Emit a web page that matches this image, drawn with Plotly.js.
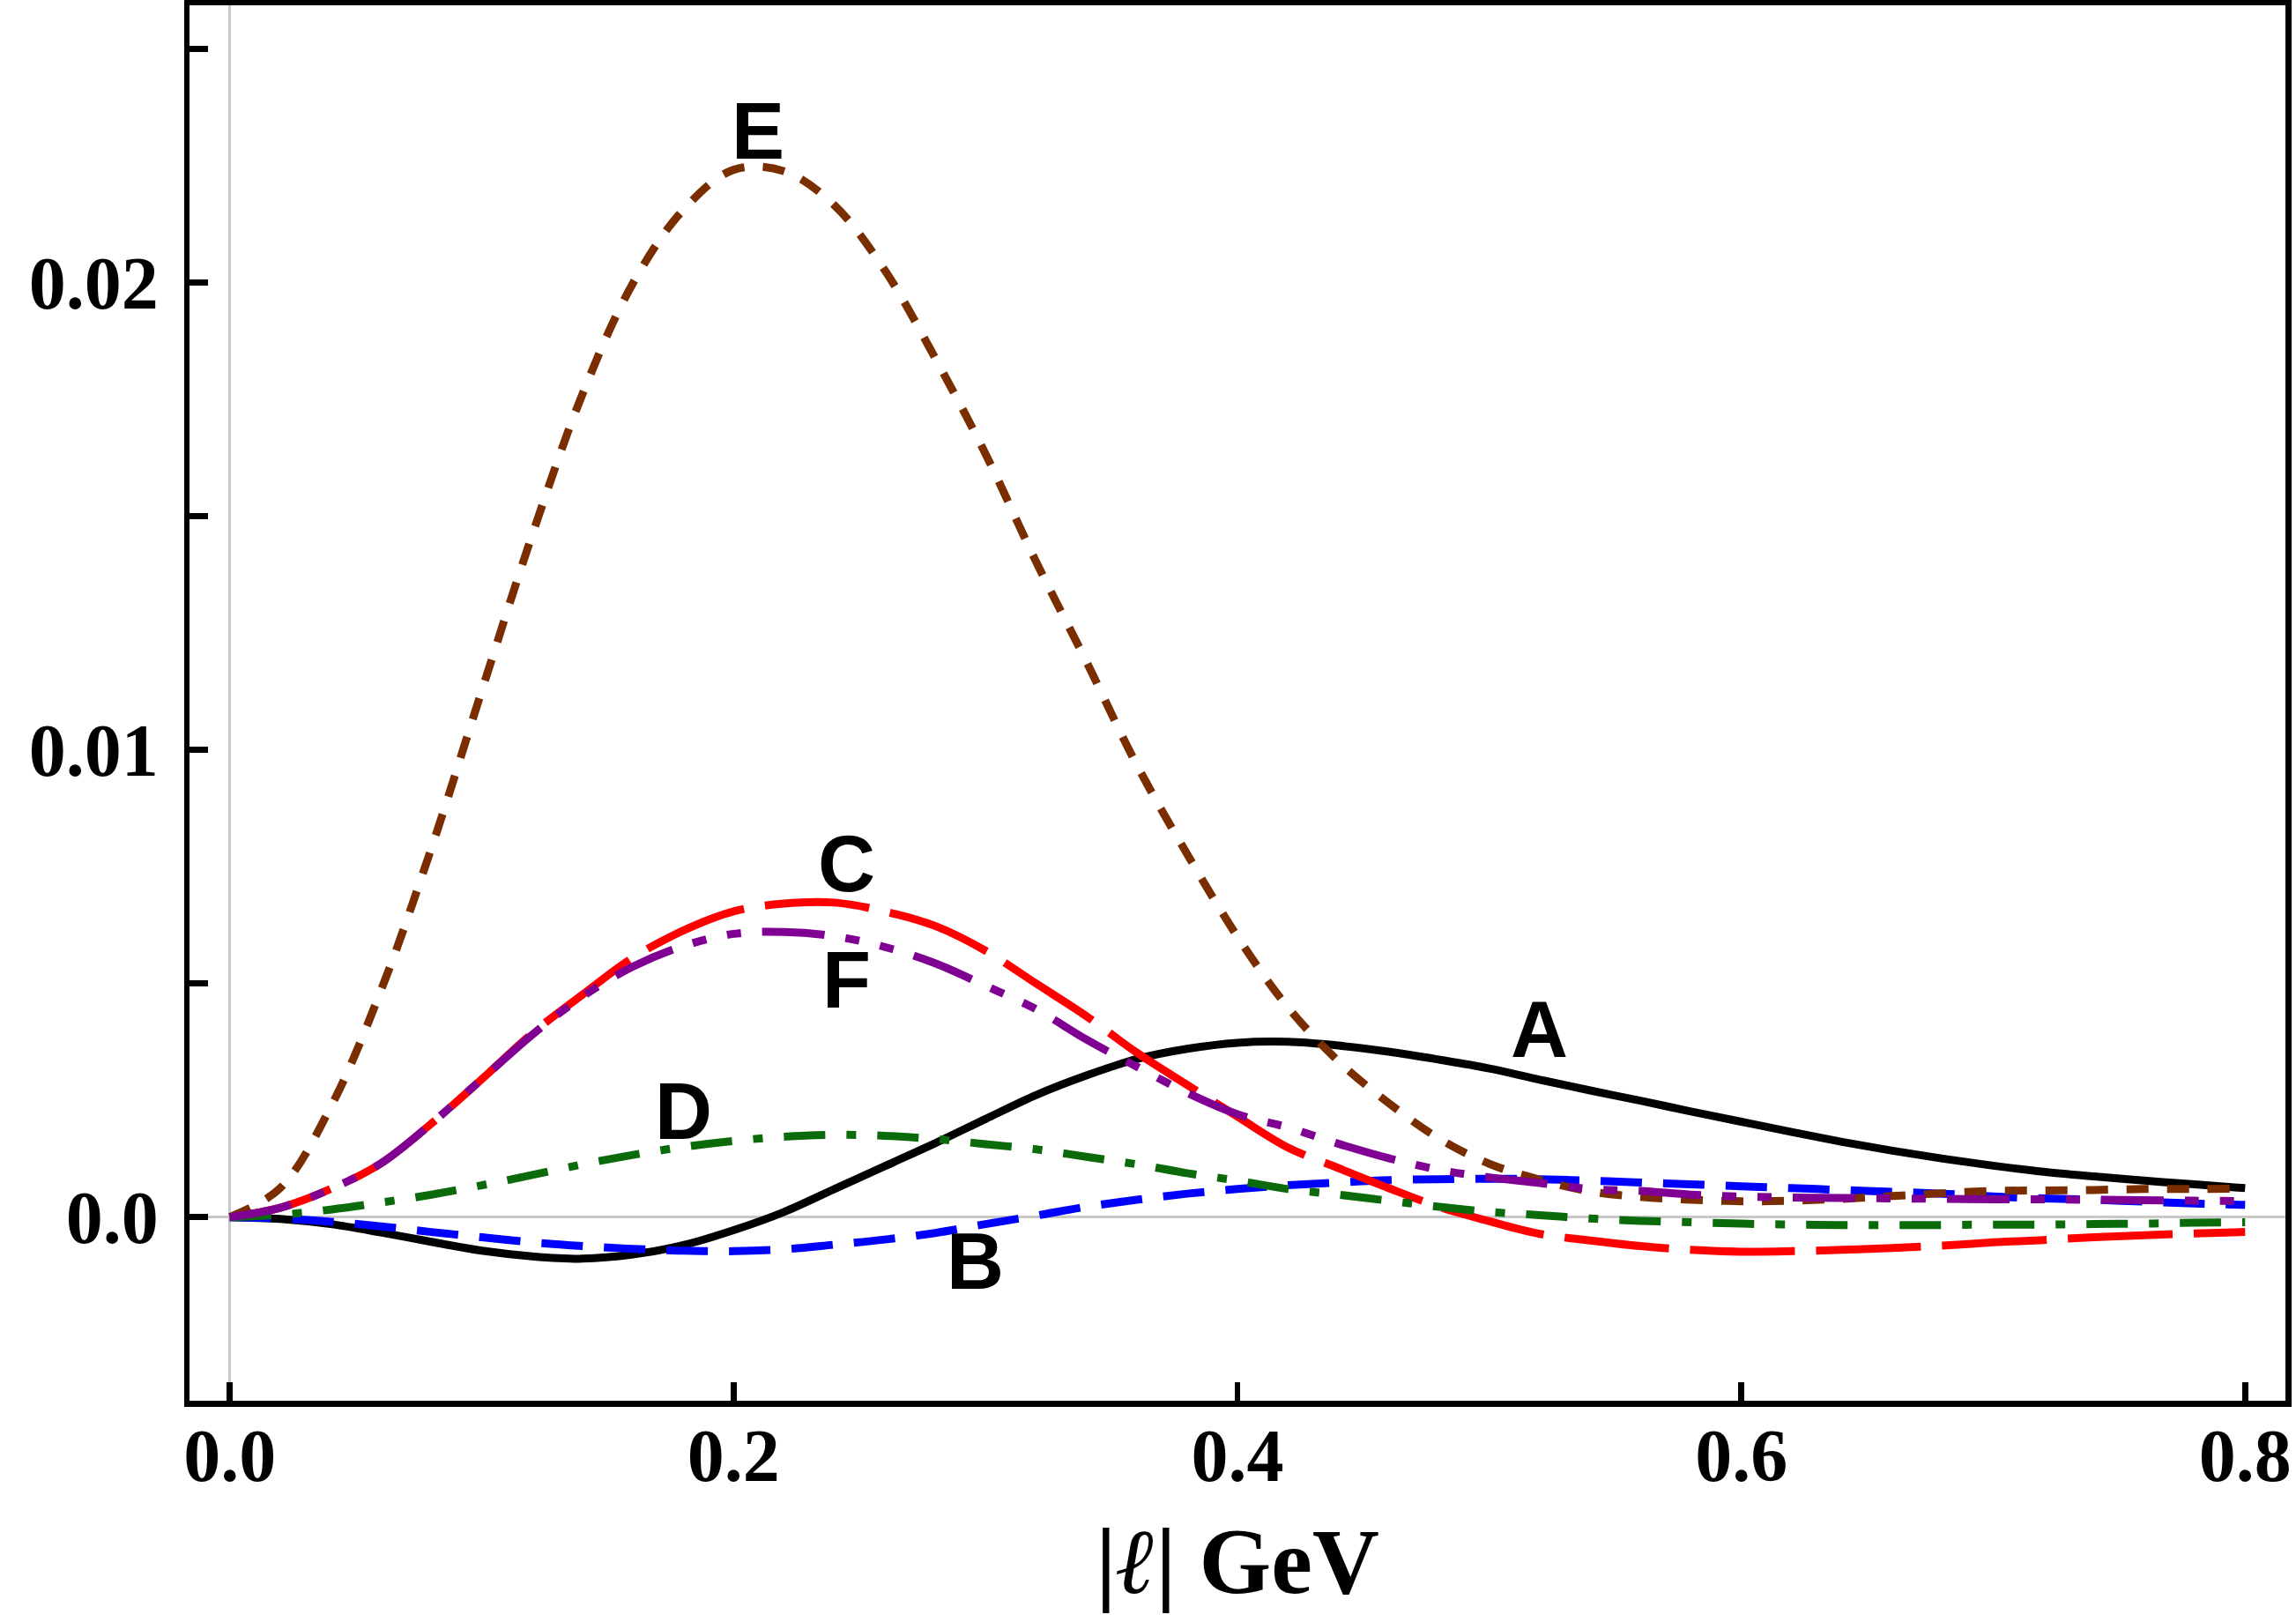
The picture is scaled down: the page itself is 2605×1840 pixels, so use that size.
<!DOCTYPE html>
<html>
<head>
<meta charset="utf-8">
<script src="https://cdn.plot.ly/plotly-3.0.1.min.js"></script>
<style>
  html, body { margin: 0; padding: 0; background: #ffffff; }
  #chart { width: 2605px; height: 1840px; }
</style>
</head>
<body>
<div id="chart"></div>
<script>
// Momentum grid |l| in GeV
const momentum = [0, 0.02, 0.04, 0.06, 0.08, 0.10, 0.12, 0.14, 0.16, 0.18, 0.20,
                  0.22, 0.24, 0.26, 0.28, 0.30, 0.32, 0.34, 0.36, 0.38, 0.40,
                  0.42, 0.44, 0.46, 0.48, 0.50, 0.52, 0.54, 0.56, 0.58, 0.60,
                  0.62, 0.64, 0.66, 0.68, 0.70, 0.72, 0.74, 0.76, 0.78, 0.80];

// Curve A (solid black)
const curveA = [0, -0.00004, -0.00015, -0.00033, -0.00053, -0.00072, -0.00084, -0.00089, -0.0008, -0.0006, -0.00028,
                0.00011, 0.0006, 0.00109, 0.00158, 0.0021, 0.00261, 0.00303, 0.00338, 0.0036, 0.00373,
                0.00375, 0.00367, 0.00354, 0.00337, 0.00318, 0.00294, 0.00271, 0.00249, 0.00226, 0.00204,
                0.00182, 0.00161, 0.00142, 0.00125, 0.0011, 0.00097, 0.00087, 0.00078, 0.0007, 0.00062];

// Curve B (blue dashed)
const curveB = [0, -0.00003, -0.0001, -0.0002, -0.00032, -0.00043, -0.00054, -0.00062, -0.00068, -0.00072, -0.00073,
                -0.00069, -0.00059, -0.00048, -0.00034, -0.00015, 0.00003, 0.00022, 0.00037, 0.0005, 0.0006,
                0.00068, 0.00074, 0.00079, 0.00081, 0.00082, 0.00081, 0.00078, 0.00074, 0.0007, 0.00066,
                0.00062, 0.00058, 0.00054, 0.0005, 0.00044, 0.0004, 0.00037, 0.00033, 0.00029, 0.00026];

// Curve C (red long dashes)
const curveC = [0, 0.0002, 0.0006, 0.00115, 0.002, 0.00295, 0.00393, 0.00476, 0.00555, 0.00613, 0.00654,
                0.00671, 0.00673, 0.00654, 0.00623, 0.0057, 0.005, 0.0043, 0.00352, 0.00283, 0.00215,
                0.00149, 0.00105, 0.00062, 0.00022, -0.00009, -0.00036, -0.0005, -0.00062, -0.0007, -0.00074,
                -0.00073, -0.0007, -0.00066, -0.00061, -0.00054, -0.00049, -0.00043, -0.00039, -0.00035, -0.00032];

// Curve D (green dash-dot)
const curveD = [0, 0.00005, 0.00016, 0.00031, 0.00048, 0.00068, 0.0009, 0.00113, 0.00133, 0.0015, 0.00163,
                0.00172, 0.00176, 0.00174, 0.00167, 0.00156, 0.00145, 0.00129, 0.00113, 0.00094, 0.00078,
                0.0006, 0.00048, 0.00035, 0.00022, 0.00011, 0.00004, -0.00003, -0.00008, -0.00011, -0.00014,
                -0.00016, -0.00017, -0.00017, -0.00017, -0.00016, -0.00016, -0.00015, -0.00014, -0.00012, -0.00011];

// Curve E (brown short dashes)
const curveE = [0, 0.00062, 0.00235, 0.00485, 0.00789, 0.01126, 0.01459, 0.01761, 0.01998, 0.02155, 0.02241,
                0.02238, 0.02165, 0.02026, 0.01838, 0.01633, 0.01403, 0.01189, 0.00968, 0.00777, 0.006,
                0.00449, 0.00334, 0.00244, 0.00168, 0.00114, 0.0008, 0.00055, 0.00043, 0.00037, 0.00034,
                0.00035, 0.00039, 0.00045, 0.00051, 0.00056, 0.00057, 0.00058, 0.0006, 0.0006, 0.00061];

// Curve F (purple dash-dot-dot)
const curveF = [0, 0.0002, 0.0006, 0.00115, 0.002, 0.00295, 0.0039, 0.00472, 0.00536, 0.0058, 0.00606,
                0.0061, 0.00601, 0.00578, 0.00543, 0.00495, 0.00445, 0.0038, 0.00322, 0.00266, 0.0022,
                0.00192, 0.00157, 0.00126, 0.00101, 0.00085, 0.00073, 0.0006, 0.00056, 0.00048, 0.00044,
                0.00042, 0.00041, 0.0004, 0.00039, 0.00038, 0.00038, 0.00037, 0.00036, 0.00035, 0.00034];

// Axis ticks
const xTickVals = [0, 0.2, 0.4, 0.6, 0.8];
const xTickText = ['0.0', '0.2', '0.4', '0.6', '0.8'];
const yTickVals = [0, 0.005, 0.01, 0.015, 0.02, 0.025];
const yTickText = ['0.0', '', '0.01', '', '0.02', ''];

// Curve labels
const labelNames = ['A', 'B', 'C', 'D', 'E', 'F'];
const labelX = [0.52, 0.296, 0.2447, 0.18, 0.2097, 0.2447];
const labelY = [0.00402, -0.00095, 0.00756, 0.00225, 0.02324, 0.00507];

const LW = 9;
function curve(y, color, dash) {
  return {
    x: momentum, y: y, type: 'scatter', mode: 'lines',
    line: { color: color, width: LW, dash: dash, shape: 'spline', smoothing: 1 },
    hoverinfo: 'skip'
  };
}

// Drawn in order A..F, later curves on top
const traces = [
  curve(curveA, '#000000', 'solid'),
  curve(curveB, '#0000ff', '47px,24px'),
  curve(curveC, '#ff0000', '119px,24px'),
  curve(curveD, '#0b6b0b', '47px,24px,11px,24px'),
  curve(curveE, '#7a2e00', '25px,21px'),
  curve(curveF, '#7f0092', '71px,24px,16px,24px,16px,24px')
];

const serifBold = { family: '"Liberation Serif", "Times New Roman", serif', size: 84, color: '#000000', weight: 'bold' };

const annotations = labelNames.map((t, i) => ({
  x: labelX[i], y: labelY[i], xref: 'x', yref: 'y',
  text: t, showarrow: false, xanchor: 'center', yanchor: 'middle',
  font: { family: '"Liberation Sans", Arial, sans-serif', size: 90, color: '#000000', weight: 'bold' }
}));

const axisCommon = {
  showline: true, linecolor: '#000000', linewidth: 6.5, mirror: true,
  ticks: 'inside', ticklen: 21, tickwidth: 6.5, tickcolor: '#000000',
  showgrid: false, zeroline: true, zerolinecolor: '#c8c8c8', zerolinewidth: 2.5,
  tickfont: serifBold, fixedrange: true, automargin: false
};

const layout = {
  width: 2605, height: 1840,
  margin: { l: 215, r: 12, t: 6, b: 251, pad: 0 },
  paper_bgcolor: '#ffffff', plot_bgcolor: '#ffffff',
  showlegend: false,
  xaxis: Object.assign({}, axisCommon, {
    range: [-0.016, 0.816],
    tickmode: 'array', tickvals: xTickVals, ticktext: xTickText,
    ticklabelstandoff: -16,
    title: {
      text: '|<i>ℓ</i>| GeV', standoff: 38,
      font: { family: '"Liberation Serif", "Times New Roman", serif', size: 105, color: '#000000', weight: 'bold' }
    }
  }),
  yaxis: Object.assign({}, axisCommon, {
    range: [-0.00393, 0.02593],
    tickmode: 'array', tickvals: yTickVals, ticktext: yTickText,
    ticklabelstandoff: 12
  }),
  annotations: annotations
};

Plotly.newPlot('chart', traces, layout, { staticPlot: true, displayModeBar: false });
</script>
</body>
</html>
